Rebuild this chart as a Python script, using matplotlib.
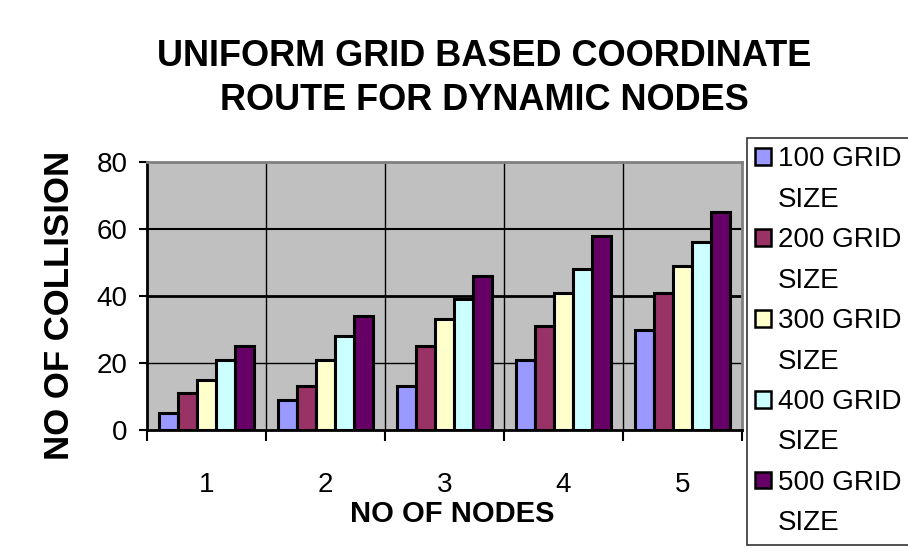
import numpy as np
import matplotlib
matplotlib.use("Agg")
import matplotlib.pyplot as plt
from matplotlib.patches import Patch

plt.rcParams['font.family'] = ['Liberation Sans', 'DejaVu Sans']

nodes = ['1', '2', '3', '4', '5']
series = ['100 GRID', '200 GRID', '300 GRID', '400 GRID', '500 GRID']
grid100 = [5, 9, 13, 21, 30]
grid200 = [11, 13, 25, 31, 41]
grid300 = [15, 21, 33, 41, 49]
grid400 = [21, 28, 39, 48, 56]
grid500 = [25, 34, 46, 58, 65]
colors = ['#9999FF', '#993366', '#FFFFCC', '#CCFFFF', '#660066']

values = [grid100, grid200, grid300, grid400, grid500]

fig = plt.figure(figsize=(9.08, 5.52), dpi=100)
ax = fig.add_axes([147/908, 1 - 430/552, 595/908, 268/552])
ax.set_facecolor('#C0C0C0')

x = np.arange(len(nodes))
w = 0.16
for i, (vals, c) in enumerate(zip(values, colors)):
    ax.bar(x - 0.4 + w/2 + i*w, vals, width=w, color=c, edgecolor='black',
           linewidth=2.2, zorder=3)

ax.set_xlim(-0.5, 4.5)
ax.set_ylim(0, 80)

# gridlines
for yv, lw in [(20, 1.0), (40, 2.0), (60, 1.5)]:
    ax.axhline(yv, color='black', linewidth=lw, zorder=1)
for xv in [0.5, 1.5, 2.5, 3.5]:
    ax.axvline(xv, color='black', linewidth=1.0, zorder=1)

ax.set_yticks([0, 20, 40, 60, 80])
ax.tick_params(axis='y', labelsize=20, length=6, width=1.5, direction='out', pad=8)
ax.set_xticks([-0.5, 0.5, 1.5, 2.5, 3.5, 4.5])
ax.set_xticklabels([])
ax.tick_params(axis='x', which='major', length=8, width=1.5, direction='out')
ax.set_xticks(x, minor=True)
ax.set_xticklabels(nodes, minor=True)
ax.tick_params(axis='x', which='minor', length=0, labelsize=20, pad=30)

for s in ['top', 'right']:
    ax.spines[s].set_color('#808080')
    ax.spines[s].set_linewidth(2)
for s in ['left', 'bottom']:
    ax.spines[s].set_color('black')
    ax.spines[s].set_linewidth(2)

fig.text(452/908, 1 - 514/552, 'NO OF NODES', ha='center', va='center',
         fontsize=21, fontweight='bold')
fig.text(60/908, 1 - 305/552, 'NO OF COLLISION', ha='center', va='center',
         rotation=90, fontsize=25, fontweight='bold')

fig.text(484/908, 1 - 57/552, 'UNIFORM GRID BASED COORDINATE',
         ha='center', va='center', fontsize=26, fontweight='bold')
fig.text(484/908, 1 - 101/552, 'ROUTE FOR DYNAMIC NODES',
         ha='center', va='center', fontsize=26, fontweight='bold')

# legend: colour box beside first line, "SIZE" on its own line
handles, labels = [], []
for lab, c in zip(series, colors):
    handles.append(Patch(facecolor=c, edgecolor='black', linewidth=1.8))
    labels.append(lab)
    handles.append(Patch(facecolor='none', edgecolor='none'))
    labels.append('SIZE')

leg = fig.legend(handles, labels, loc='upper left',
                 bbox_to_anchor=(747/908, 1 - 138/552),
                 fontsize=20, frameon=True, fancybox=False,
                 handlelength=0.55, handleheight=0.55, handletextpad=0.25,
                 borderpad=0.3, labelspacing=0.52, borderaxespad=0)
leg.get_frame().set_edgecolor('black')
leg.get_frame().set_linewidth(1.2)

fig.savefig('out.png', dpi=100)
